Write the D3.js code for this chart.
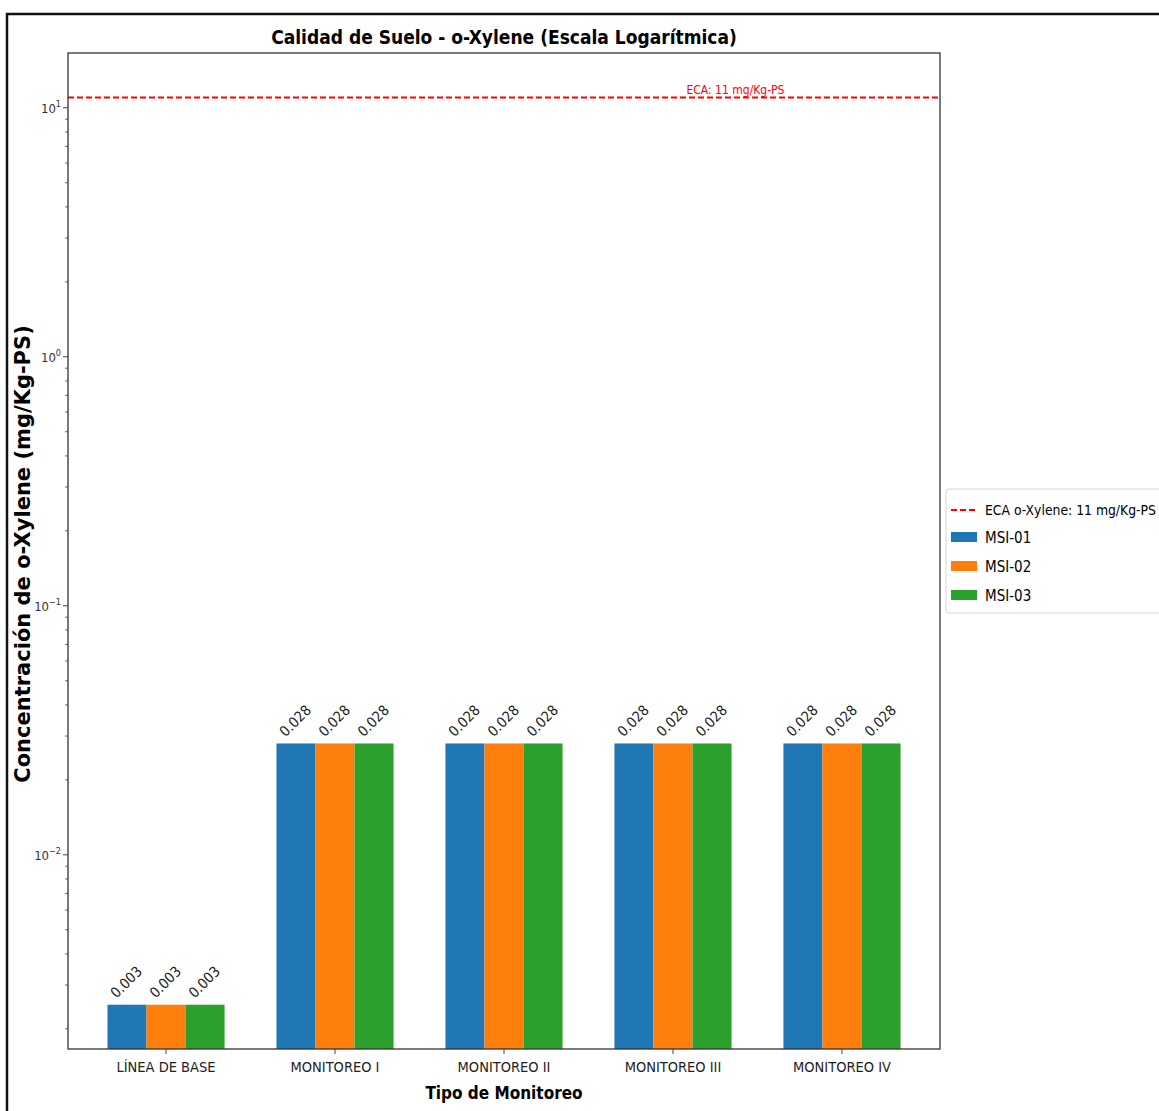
<!DOCTYPE html>
<html lang="es">
<head>
<meta charset="utf-8">
<title>Calidad de Suelo - o-Xylene</title>
<script src="https://cdnjs.cloudflare.com/ajax/libs/d3/7.8.5/d3.min.js"></script>
<style>
  body { margin: 0; background: #fff; }
  text { font-family: "DejaVu Sans Condensed", "DejaVu Sans", sans-serif; }
</style>
</head>
<body>
<script>
// data
var categories = ["LÍNEA DE BASE", "MONITOREO I", "MONITOREO II", "MONITOREO III", "MONITOREO IV"];
var seriesNames = ["MSI-01", "MSI-02", "MSI-03"];
var msi01 = [0.0025, 0.028, 0.028, 0.028, 0.028];
var msi02 = [0.0025, 0.028, 0.028, 0.028, 0.028];
var msi03 = [0.0025, 0.028, 0.028, 0.028, 0.028];
var ecaValue = 11;
var ecaLabel = "ECA: 11 mg/Kg-PS";
var ecaLegend = "ECA o-Xylene: 11 mg/Kg-PS";
var yTickExponents = [-2, -1, 0, 1];
var colors = ["#1f77b4", "#ff7f0e", "#2ca02c"];

var W = 1159, H = 1111;
var plot = {left: 68, top: 53, right: 940, bottom: 1049};
var barW = 0.231;

var svg = d3.select("body").append("svg")
    .attr("width", W)
    .attr("height", H);

// outer frame
svg.append("rect")
    .attr("x", 7).attr("y", 14)
    .attr("width", W + 20).attr("height", H + 20)
    .attr("fill", "none").attr("stroke", "#111").attr("stroke-width", 2.5);

var x = d3.scaleLinear().domain([-0.58, 4.58]).range([plot.left, plot.right]);
var y = d3.scaleLog().domain([0.00166, 16.6]).range([plot.bottom, plot.top]);

var allSeries = [msi01, msi02, msi03];

// bars
allSeries.forEach(function(vals, s) {
  var off = (s - 1) * barW;
  svg.append("g").selectAll("rect")
    .data(vals)
    .enter().append("rect")
      .attr("x", function(d, i) { return x(i + off - barW / 2); })
      .attr("width", function(d, i) { return x(i + off + barW / 2) - x(i + off - barW / 2); })
      .attr("y", function(d) { return y(d); })
      .attr("height", function(d) { return plot.bottom - y(d); })
      .attr("fill", colors[s]);

  // value labels
  svg.append("g").selectAll("text")
    .data(vals)
    .enter().append("text")
      .attr("transform", function(d, i) {
        return "translate(" + x(i + off) + "," + (y(d) - 22) + ") rotate(-45)";
      })
      .attr("text-anchor", "middle")
      .attr("dominant-baseline", "middle")
      .attr("font-size", 14.5)
      .attr("fill", "#222")
      .text(function(d) { return d3.format(".3f")(d); });
});

// ECA line
svg.append("line")
    .attr("x1", plot.left).attr("x2", plot.right)
    .attr("y1", y(ecaValue)).attr("y2", y(ecaValue))
    .attr("stroke", "red").attr("stroke-width", 2)
    .attr("stroke-dasharray", "6,3");
svg.append("text")
    .attr("x", x(3.08)).attr("y", y(ecaValue) - 4)
    .attr("fill", "red").attr("font-size", 12)
    .text(ecaLabel);

// y axis: major + minor ticks
var ya = svg.append("g");
var minors = [];
[-3, -2, -1, 0, 1].forEach(function(e) {
  for (var m = 2; m <= 9; m++) {
    var v = m * Math.pow(10, e);
    if (v >= y.domain()[0] && v <= y.domain()[1]) minors.push(v);
  }
});
ya.selectAll("line.minor").data(minors).enter().append("line")
    .attr("x1", plot.left - 3).attr("x2", plot.left)
    .attr("y1", function(d) { return y(d); }).attr("y2", function(d) { return y(d); })
    .attr("stroke", "#444").attr("stroke-width", 0.8);
ya.selectAll("line.major").data(yTickExponents).enter().append("line")
    .attr("x1", plot.left - 5).attr("x2", plot.left)
    .attr("y1", function(d) { return y(Math.pow(10, d)); })
    .attr("y2", function(d) { return y(Math.pow(10, d)); })
    .attr("stroke", "#444").attr("stroke-width", 1);
var lbl = ya.selectAll("text").data(yTickExponents).enter().append("text")
    .attr("x", plot.left - 7)
    .attr("y", function(d) { return y(Math.pow(10, d)) + 5; })
    .attr("text-anchor", "end")
    .attr("font-size", 13)
    .attr("fill", "#333");
lbl.append("tspan").text("10");
lbl.append("tspan").attr("dy", -6).attr("font-size", 9)
    .text(function(d) { return d < 0 ? "\u2212" + Math.abs(d) : d; });

// x ticks
var xa = svg.append("g");
xa.selectAll("line").data(categories).enter().append("line")
    .attr("x1", function(d, i) { return x(i); }).attr("x2", function(d, i) { return x(i); })
    .attr("y1", plot.bottom).attr("y2", plot.bottom + 5)
    .attr("stroke", "#444");
xa.selectAll("text").data(categories).enter().append("text")
    .attr("x", function(d, i) { return x(i); })
    .attr("y", plot.bottom + 23)
    .attr("text-anchor", "middle")
    .attr("font-size", 14.5)
    .attr("fill", "#222")
    .text(function(d) { return d; });

// plot frame
svg.append("rect")
    .attr("x", plot.left).attr("y", plot.top)
    .attr("width", plot.right - plot.left).attr("height", plot.bottom - plot.top)
    .attr("fill", "none").attr("stroke", "#333").attr("stroke-width", 1.3);

// title and axis labels
svg.append("text")
    .attr("x", (plot.left + plot.right) / 2).attr("y", 44)
    .attr("text-anchor", "middle")
    .attr("font-size", 19).attr("font-weight", "bold")
    .text("Calidad de Suelo - o-Xylene (Escala Logarítmica)");
svg.append("text")
    .attr("x", (plot.left + plot.right) / 2).attr("y", 1099)
    .attr("text-anchor", "middle")
    .attr("font-size", 17).attr("font-weight", "bold")
    .text("Tipo de Monitoreo");
svg.append("text")
    .attr("transform", "translate(30," + ((plot.top + plot.bottom) / 2 + 3) + ") rotate(-90)")
    .attr("text-anchor", "middle")
    .style("font-family", "'DejaVu Sans', sans-serif")
    .attr("font-size", 21).attr("font-weight", "bold")
    .text("Concentración de o-Xylene (mg/Kg-PS)");

// legend
var lg = svg.append("g").attr("transform", "translate(946,489)");
lg.append("rect")
    .attr("width", 240).attr("height", 124).attr("rx", 3)
    .attr("fill", "#fff").attr("stroke", "#d6d6d6");
lg.append("line")
    .attr("x1", 5).attr("x2", 31).attr("y1", 21).attr("y2", 21)
    .attr("stroke", "red").attr("stroke-width", 2).attr("stroke-dasharray", "6,3");
lg.append("text").attr("x", 39).attr("y", 26).attr("font-size", 13.8).text(ecaLegend);
lg.selectAll("rect.sw").data(seriesNames).enter().append("rect")
    .attr("x", 5).attr("y", function(d, i) { return 43 + i * 29; })
    .attr("width", 26).attr("height", 10)
    .attr("fill", function(d, i) { return colors[i]; });
lg.selectAll("text.sn").data(seriesNames).enter().append("text")
    .attr("x", 39).attr("y", function(d, i) { return 54 + i * 29; })
    .attr("font-size", 15)
    .text(function(d) { return d; });
</script>
</body>
</html>
